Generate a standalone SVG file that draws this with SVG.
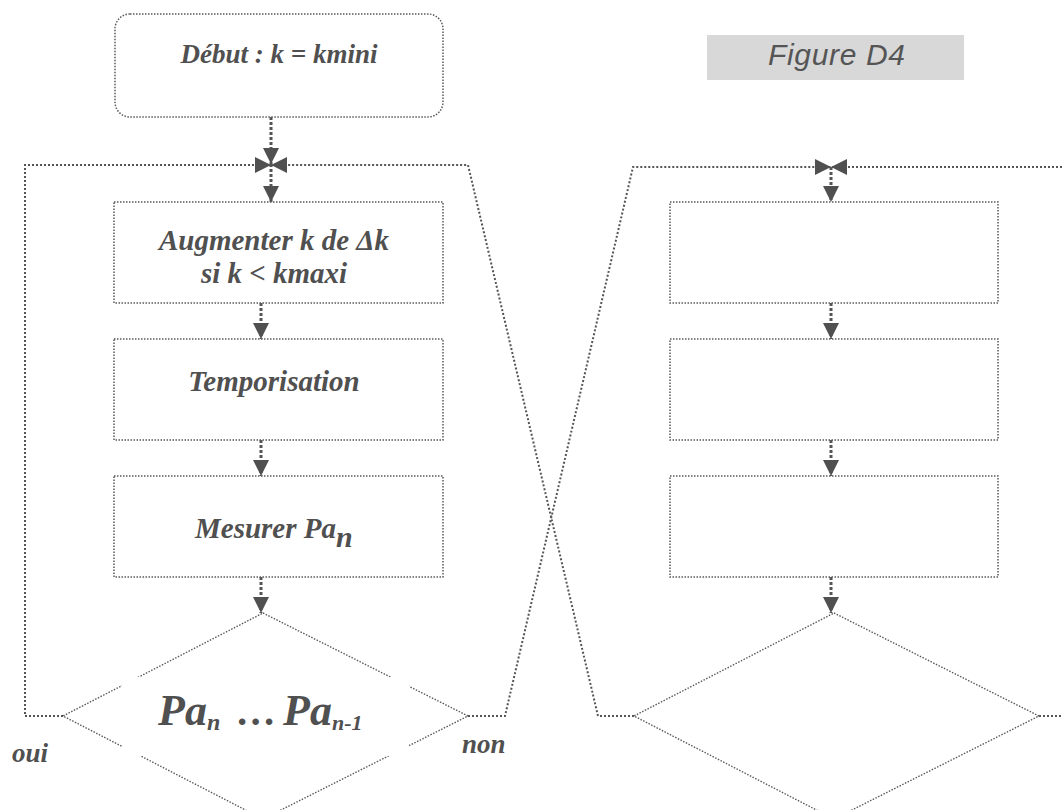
<svg xmlns="http://www.w3.org/2000/svg" width="1062" height="810" viewBox="0 0 1062 810">
<style>
.box{fill:none;stroke:#5a5a5a;stroke-width:1.5;stroke-dasharray:1.5 1.5}
.dia{fill:none;stroke:#5a5a5a;stroke-width:1.4;stroke-dasharray:1.5 1.5}
.loop{fill:none;stroke:#555;stroke-width:2;stroke-dasharray:2 2}
.stem{fill:none;stroke:#555;stroke-width:3;stroke-dasharray:3 2}
.t{font-family:"Liberation Serif","Times New Roman",serif;font-weight:bold;font-style:italic;fill:#505050}
</style>
<defs>
<marker id="ah" viewBox="0 0 16 16" refX="16" refY="8" markerWidth="16" markerHeight="16" markerUnits="userSpaceOnUse" orient="auto"><path d="M0,0 L16,8 L0,16 z" fill="#505050"/></marker>
</defs>
<rect width="1062" height="810" fill="#fff"/>
<g id="connectors">
<path class="stem" d="M271,117 V164" marker-end="url(#ah)"/>
<path class="stem" d="M271,164 V202" marker-end="url(#ah)"/>
<path class="loop" d="M63,716 H25 V165 H271" marker-end="url(#ah)"/>
<path class="loop" d="M634,716 H598 L468,165 H271" marker-end="url(#ah)"/>
<path class="stem" d="M261,303 V339" marker-end="url(#ah)"/>
<path class="stem" d="M261,440 V476" marker-end="url(#ah)"/>
<path class="stem" d="M261,577 V613" marker-end="url(#ah)"/>
<path class="loop" d="M468,716 H505 L633,167 H831" marker-end="url(#ah)"/>
<path class="loop" d="M1062,167 H831" marker-end="url(#ah)"/>
<path class="stem" d="M831,167 V202" marker-end="url(#ah)"/>
<path class="stem" d="M831,303 V339" marker-end="url(#ah)"/>
<path class="stem" d="M831,440 V476" marker-end="url(#ah)"/>
<path class="stem" d="M831,577 V613" marker-end="url(#ah)"/>
<path class="loop" d="M1039,716 H1062"/>
</g>
<g id="start">
<rect class="box" x="115" y="14" width="328" height="103" rx="15"/>
<text class="t" x="279" y="63" font-size="27" text-anchor="middle">Début : k = kmini</text>
</g>
<g id="augmenter">
<rect class="box" x="114" y="202" width="329" height="101"/>
<text class="t" x="274" y="250" font-size="29" text-anchor="middle">Augmenter k de Δk</text>
<text class="t" x="274" y="283" font-size="29" text-anchor="middle">si k &lt; kmaxi</text>
</g>
<g id="temporisation">
<rect class="box" x="114" y="339" width="329" height="101"/>
<text class="t" x="274" y="391" font-size="29" text-anchor="middle">Temporisation</text>
</g>
<g id="mesurer">
<rect class="box" x="114" y="476" width="329" height="101"/>
<text class="t" x="195" y="538" font-size="29">Mesurer Pa<tspan font-size="30" dy="9">n</tspan></text>
</g>
<g id="test">
<polygon class="dia" points="263,613 468,716 263,819 63,716"/>
<rect x="122" y="677" width="287" height="79" fill="#fff"/>
<text class="t" y="725" font-size="44"><tspan x="158">Pa</tspan><tspan font-size="24" dy="5">n</tspan><tspan x="237" dy="-5" font-size="40">…</tspan><tspan x="283" font-size="44">Pa</tspan><tspan font-size="22" dy="5">n-1</tspan></text>
</g>
<g id="label-oui">
<text class="t" x="12" y="762" font-size="27">oui</text>
</g>
<g id="label-non">
<text class="t" x="462" y="753" font-size="27">non</text>
</g>
<g id="r-box1"><rect class="box" x="670" y="202" width="328" height="101"/></g>
<g id="r-box2"><rect class="box" x="670" y="339" width="328" height="101"/></g>
<g id="r-box3"><rect class="box" x="670" y="476" width="328" height="101"/></g>
<g id="r-test"><polygon class="dia" points="834,613 1039,716 834,819 634,716"/></g>
<g id="figure-label">
<rect x="707" y="35" width="257" height="45" fill="#d8d8d9"/>
<text x="768" y="65" font-family="'Liberation Sans',Arial,sans-serif" font-style="italic" font-size="30" fill="#555" textLength="137" lengthAdjust="spacing">Figure D4</text>
</g>
</svg>
